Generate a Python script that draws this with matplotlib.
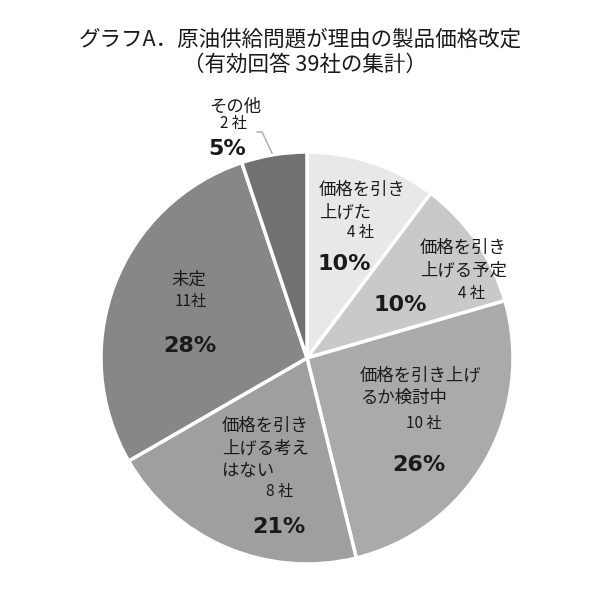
#coding=utf-8
# グラフA 原油供給問題が理由の製品価格改定（円グラフ）
import matplotlib
matplotlib.use('Agg')
import matplotlib.pyplot as plt

plt.rcParams['font.family'] = ['Noto Sans CJK JP', 'DejaVu Sans']

# データ
labels = ['価格を引き\n上げた', '価格を引き\n上げる予定', '価格を引き上げ\nるか検討中',
          '価格を引き\n上げる考え\nはない', '未定', 'その他']
counts = [4, 4, 10, 8, 11, 2]
count_labels = ['4 社', '4 社', '10 社', '8 社', '11社', '2 社']
pct_labels = ['10%', '10%', '26%', '21%', '28%', '5%']
colors = ['#e8e8e8', '#c9c9c9', '#aaaaaa', '#9f9f9f', '#878787', '#717171']

W, H = 598, 592
fig = plt.figure(figsize=(W / 100, H / 100), dpi=100)
fig.patch.set_facecolor('white')

# 円の中心 (307,358) 半径 206px
cx, cy, r = 307, 358, 206
ax = fig.add_axes([(cx - r) / W, (H - cy - r) / H, 2 * r / W, 2 * r / H])
ax.pie(counts, startangle=90, counterclock=False, colors=colors, radius=1,
       wedgeprops=dict(edgecolor='white', linewidth=2.5))
ax.set_xlim(-1, 1)
ax.set_ylim(-1, 1)
ax.axis('off')

fig.text(0.502, 0.934, 'グラフA．原油供給問題が理由の製品価格改定',
         ha='center', va='center', fontsize=15.5, color='#1a1a1a')
fig.text(0.510, 0.890, '（有効回答 39社の集計）',
         ha='center', va='center', fontsize=15.5, color='#1a1a1a')

# ラベル位置（名前, 社数, %）
name_pos = [(0.058, 0.760, 'left'), (0.549, 0.481, 'left'), (0.257, -0.141, 'left'),
            (-0.413, -0.439, 'left'), (-0.573, 0.379, 'center'), (-0.350, 1.218, 'center')]
count_pos = [(0.262, 0.607), (0.801, 0.311), (0.568, -0.316),
             (-0.131, -0.650), (-0.563, 0.272), (-0.359, 1.136)]
pct_pos = [(0.049, 0.456, 'left'), (0.451, 0.257, 'center'), (0.544, -0.519, 'center'),
           (-0.136, -0.820, 'center'), (-0.568, 0.058, 'center'), (-0.388, 1.015, 'center')]

for i in range(len(counts)):
    x, y, ha = name_pos[i]
    ax.text(x, y, labels[i], ha=ha, va='center', fontsize=12.5,
            linespacing=1.3, color='#1a1a1a')
    x, y = count_pos[i]
    ax.text(x, y, count_labels[i], ha='center', va='center', fontsize=11,
            color='#1a1a1a')
    x, y, ha = pct_pos[i]
    ax.text(x, y, pct_labels[i], ha=ha, va='center', fontsize=16,
            fontweight='bold', family='DejaVu Sans', color='#1a1a1a')

# その他の引き出し線
ax.plot([-0.243, -0.218, -0.170], [1.097, 1.097, 0.995], color='#aaaaaa',
        linewidth=1, clip_on=False)

fig.savefig('out.png', dpi=100, facecolor='white')
